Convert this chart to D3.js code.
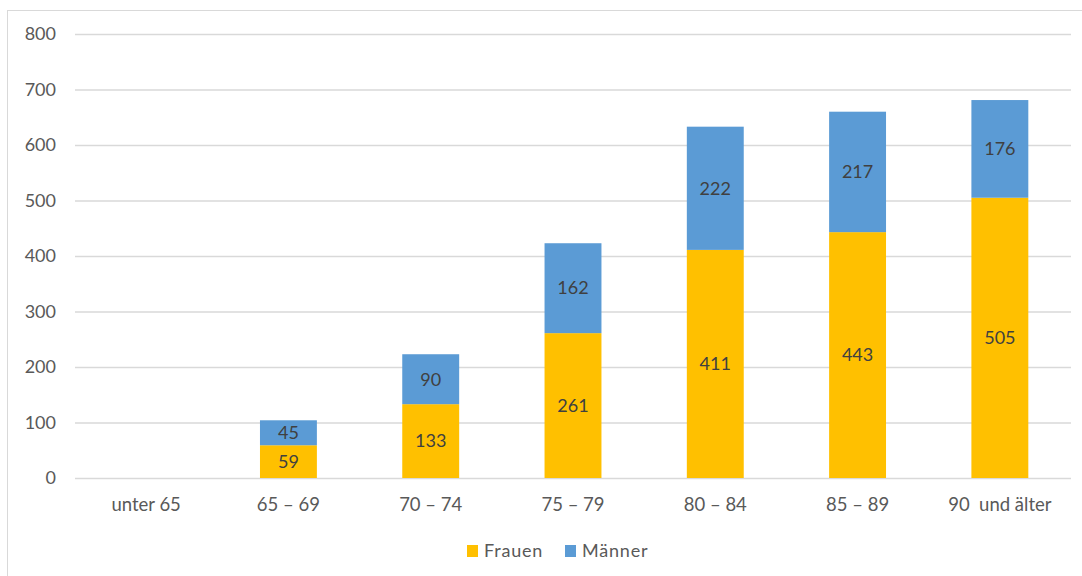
<!DOCTYPE html>
<html><head><meta charset="utf-8">
<script src="https://cdn.jsdelivr.net/npm/d3@7"></script>
<style>body{margin:0;background:#fff}svg{display:block}text{font-family:Lato,"Open Sans",sans-serif;fill:#595959}</style>
</head><body><svg id="c" width="1082" height="576"></svg>
<script>
const categories = ["unter 65","65 – 69","70 – 74","75 – 79","80 – 84","85 – 89","90  und älter"];
const frauen = [0,59,133,261,411,443,505];
const maenner = [0,45,90,162,222,217,176];
const yTicks = [0,100,200,300,400,500,600,700,800];
const seriesNames = ["Frauen","Männer"];
const colors = ["#FFC000","#5B9BD5"];

const svg = d3.select("#c");
svg.append("rect").attr("x",7.5).attr("y",10.5).attr("width",1090).attr("height",580).attr("fill","none").attr("stroke","#D9D9D9");
const m = {l:75, r:1071, t:34, b:478};
const x = d3.scaleBand().domain(categories).range([m.l,m.r]).paddingInner(0.6).paddingOuter(0.3);
const y = d3.scaleLinear().domain([0,800]).range([m.b,m.t]);

const g = svg.append("g");
g.selectAll("line.grid").data(yTicks).join("line").attr("x1",m.l).attr("x2",m.r)
 .attr("y1",d=>y(d)+0.5).attr("y2",d=>y(d)+0.5).attr("stroke","#D9D9D9").attr("stroke-width",1.3);
g.selectAll("text.yt").data(yTicks).join("text").attr("x",56).attr("y",d=>y(d)).attr("dy","0.35em")
 .attr("text-anchor","end").attr("font-size",18).text(d=>d);

const data = categories.map((c,i)=>({c, vals:[frauen[i],maenner[i]]}));
const stack = d3.stack().keys([0,1]).value((d,k)=>d.vals[k]);
const series = stack(data);
series.forEach((s,k)=>{
  g.selectAll("rect.s"+k).data(s).join("rect")
   .attr("x",d=>x(d.data.c)).attr("width",x.bandwidth())
   .attr("y",d=>y(d[1])).attr("height",d=>y(d[0])-y(d[1])).attr("fill",colors[k]);
  g.selectAll("text.l"+k).data(s.filter(d=>d[1]-d[0]>0)).join("text")
   .attr("x",d=>x(d.data.c)+x.bandwidth()/2).attr("y",d=>y((d[0]+d[1])/2)).attr("dy","0.35em")
   .attr("text-anchor","middle").attr("font-size",18).style("fill","#404040").text(d=>d[1]-d[0]);
});
g.selectAll("text.xt").data(categories).join("text").attr("x",d=>x(d)+x.bandwidth()/2).attr("y",505).attr("dy","0.35em")
 .attr("text-anchor","middle").attr("font-size",18.5).style("white-space","pre").attr("xml:space","preserve").text(d=>d);

const legX = [467,565];
seriesNames.forEach((n,i)=>{
  svg.append("rect").attr("x",legX[i]).attr("y",545).attr("width",11).attr("height",12).attr("fill",colors[i]);
  svg.append("text").attr("x",legX[i]+17).attr("y",551).attr("dy","0.35em").attr("font-size",18).attr("letter-spacing",0.8).text(n);
});
</script></body></html>
